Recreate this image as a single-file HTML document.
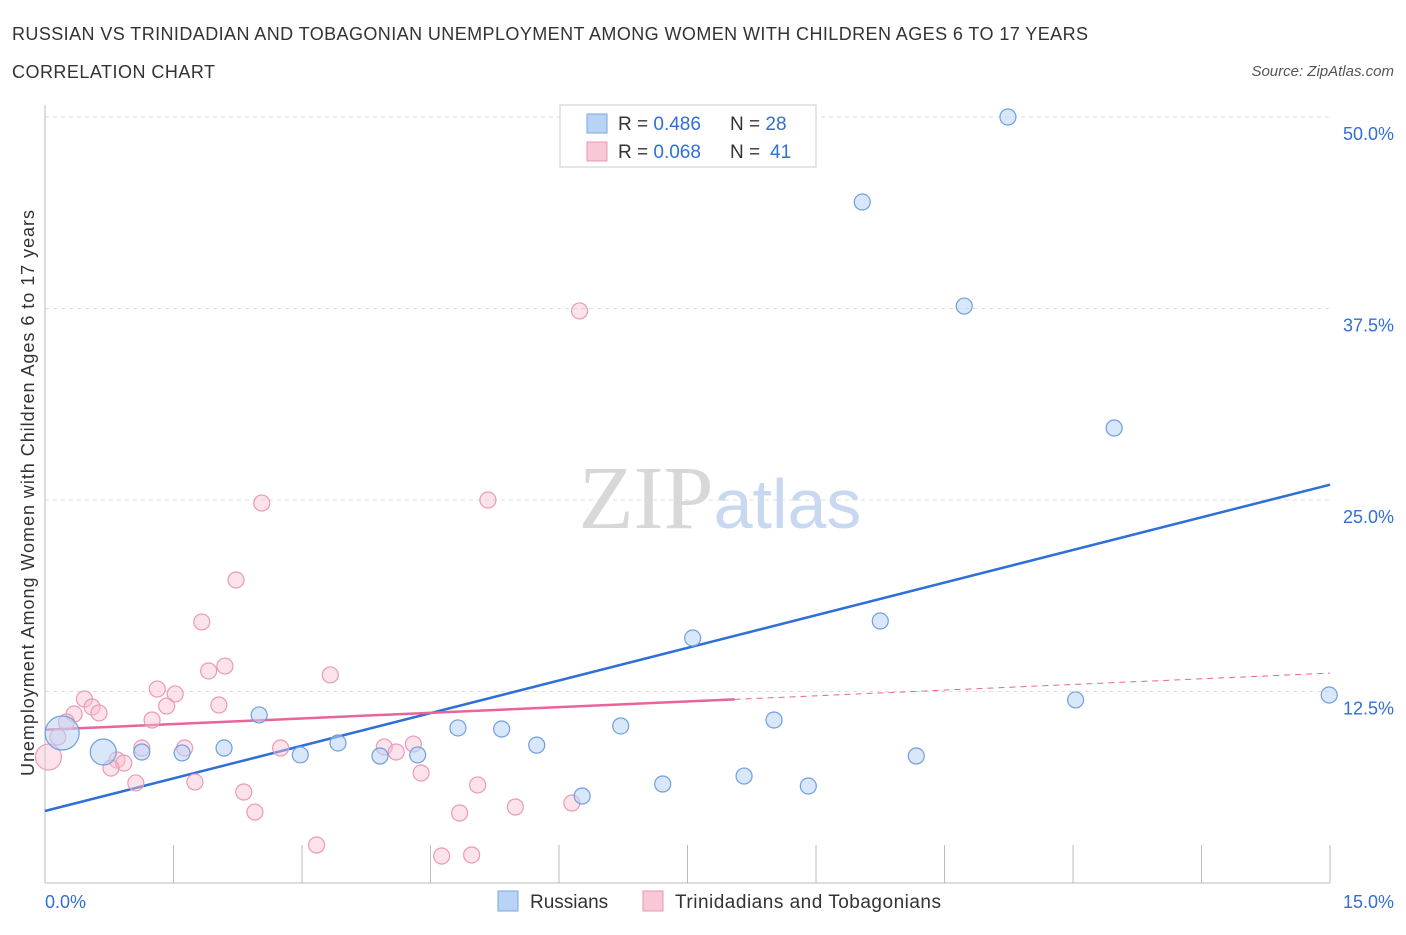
<!DOCTYPE html>
<html><head><meta charset="utf-8"><style>
body{margin:0;background:#fff;font-family:"Liberation Sans",sans-serif;}
svg text{font-family:"Liberation Sans",sans-serif;}
</style></head><body>
<svg id="chart" width="1406" height="930">
<text x="12" y="40" font-size="18" fill="#333" textLength="1076" lengthAdjust="spacing">RUSSIAN VS TRINIDADIAN AND TOBAGONIAN UNEMPLOYMENT AMONG WOMEN WITH CHILDREN AGES 6 TO 17 YEARS</text>
<text x="12" y="78" font-size="18" fill="#333" textLength="203" lengthAdjust="spacing">CORRELATION CHART</text>
<text x="1394" y="76" font-size="15" fill="#555" font-style="italic" text-anchor="end">Source: ZipAtlas.com</text>
<text x="720" y="528" font-size="90" fill="#ddd" text-anchor="middle" font-family="Liberation Serif"><tspan fill="#d8d8d8" font-family="Liberation Serif">ZIP</tspan><tspan fill="#c8d8f0" font-size="70" font-family="Liberation Sans">atlas</tspan></text>
<text transform="translate(34,493) rotate(-90)" font-size="18" fill="#333" text-anchor="middle" textLength="566" lengthAdjust="spacing">Unemployment Among Women with Children Ages 6 to 17 years</text>
<g id="grid"></g><g id="axes"></g><g id="lines"></g><g id="pts"></g>
<g>
<rect x="560" y="105" width="256" height="62" fill="#fff" stroke="#ccc"/>
<rect x="587" y="114" width="20" height="19" fill="#b8d3f5" stroke="#7aa7e0"/>
<rect x="587" y="142" width="20" height="19" fill="#f8c8d6" stroke="#e898b0"/>
<text x="618" y="130" font-size="19" fill="#333">R = <tspan fill="#2f6fd6">0.486</tspan></text>
<text x="730" y="130" font-size="19" fill="#333">N = <tspan fill="#2f6fd6">28</tspan></text>
<text x="618" y="158" font-size="19" fill="#333">R = <tspan fill="#2f6fd6">0.068</tspan></text>
<text x="730" y="158" font-size="19" fill="#333">N = <tspan fill="#2f6fd6" x="770">41</tspan></text>
</g>
<g>
<rect x="498" y="891" width="20" height="20" fill="#b8d3f5" stroke="#7aa7e0"/>
<text x="530" y="908" font-size="19" fill="#333">Russians</text>
<rect x="643" y="891" width="20" height="20" fill="#f8c8d6" stroke="#e898b0"/>
<text x="675" y="908" font-size="19" fill="#333" textLength="266" lengthAdjust="spacing">Trinidadians and Tobagonians</text>
</g>
</svg>
<script>
const yTicks=[12.5,25,37.5,50];
const yTickLabels=["12.5%","25.0%","37.5%","50.0%"];
const xTicks=[0,1.5,3,4.5,6,7.5,9,10.5,12,13.5,15];
const rusX=[11.24,9.54,10.73,12.48,9.75,7.56,14.99,12.03,2.50,8.51,4.82,5.33,6.72,3.42,5.74,2.09,1.13,1.60,0.68,0.2,2.98,3.91,4.35,10.17,8.16,7.21,8.91,6.27];
const rusY=[50.0,44.45,37.66,29.7,17.1,15.99,12.27,11.95,10.97,10.64,10.12,10.05,10.25,9.14,9.0,8.81,8.55,8.49,8.55,9.79,8.36,8.29,8.36,8.29,6.98,6.46,6.33,5.68];
const rusBig=[0,0,0,0,0,0,0,0,0,0,0,0,0,0,0,0,0,0,1,2,0,0,0,0,0,0,0,0];
const triX=[6.24,2.53,5.17,2.23,1.83,2.10,1.91,3.33,1.31,1.52,0.46,0.55,0.63,0.34,1.42,2.03,1.25,0.25,0.15,0.04,1.13,1.63,2.75,3.96,4.1,4.3,0.84,0.92,0.77,4.39,1.06,1.75,5.05,2.32,5.49,6.15,2.45,4.84,3.17,4.63,4.98];
const triY=[37.34,24.8,25.0,19.78,17.04,14.16,13.84,13.58,12.66,12.34,12.01,11.49,11.1,11.03,11.55,11.62,10.64,10.51,9.53,8.22,8.81,8.81,8.81,8.88,8.55,9.07,8.03,7.83,7.5,7.18,6.53,6.59,6.4,5.94,4.96,5.22,4.63,4.57,2.48,1.76,1.83];
const triBig=[0,0,0,0,0,0,0,0,0,0,0,0,0,0,0,0,0,0,0,1,0,0,0,0,0,0,0,0,0,0,0,0,0,0,0,0,0,0,0,0,0];
const rusTrend=[4.7,26.0];
const triTrend=[10.0,13.7];
const triSolidEnd=8.05;
const X=v=>45+v*85.67, Y=v=>883-v*15.32;
const NS="http://www.w3.org/2000/svg";
function mk(tag,attrs,parent){const e=document.createElementNS(NS,tag);for(const k in attrs)e.setAttribute(k,attrs[k]);document.getElementById(parent).appendChild(e);return e;}
yTicks.forEach((t,i)=>{
 const g=mk('line',{x1:45,x2:1330,y1:Y(t),y2:Y(t),stroke:'#ddd','stroke-dasharray':'4,4'},'grid');
 
 
 const l=mk('text',{x:1394,y:Y(t)+23,'font-size':18,fill:'#2f6fd6','text-anchor':'end'},'grid');
 l.textContent=yTickLabels[i];
 
 
});
const ax=mk('line',{x1:45,x2:1330,y1:883,y2:883,stroke:'#bbb'},'axes');


const ay=mk('line',{x1:45,x2:45,y1:105,y2:883,stroke:'#bbb'},'axes');


xTicks.forEach(t=>{
 const k=mk('line',{x1:X(t),x2:X(t),y1:845,y2:883,stroke:'#bbb'},'axes');
 
 
});
const xl0=mk('text',{x:45,y:908,'font-size':18,fill:'#2f6fd6'},'axes');xl0.textContent='0.0%';


const xl1=mk('text',{x:1394,y:908,'font-size':18,fill:'#2f6fd6','text-anchor':'end'},'axes');xl1.textContent='15.0%';


triX.forEach((x,i)=>{
 const r=triBig[i]?13:8;
 const c=mk('circle',{cx:X(x),cy:Y(triY[i]),r:r,fill:'rgba(248,190,208,0.45)',stroke:'#eb9ab4','stroke-width':1.2},'pts');
 
 
});
rusX.forEach((x,i)=>{
 const r=rusBig[i]==1?13:rusBig[i]==2?17:8;
 const c=mk('circle',{cx:X(x),cy:Y(rusY[i]),r:r,fill:'rgba(184,211,245,0.55)',stroke:'#6f9fdc','stroke-width':1.2},'pts');
 
 
});
const bl=mk('line',{x1:X(0),y1:Y(rusTrend[0]),x2:X(15),y2:Y(rusTrend[1]),stroke:'#2f6fd6','stroke-width':2.5},'lines');


const ty=v=>triTrend[0]+(triTrend[1]-triTrend[0])*v/15;
const pl=mk('line',{x1:X(0),y1:Y(ty(0)),x2:X(triSolidEnd),y2:Y(ty(triSolidEnd)),stroke:'#e8649a','stroke-width':2.5},'lines');


const pd=mk('line',{x1:X(triSolidEnd),y1:Y(ty(triSolidEnd)),x2:X(15),y2:Y(ty(15)),stroke:'#e8649a','stroke-width':1,'stroke-dasharray':'6,5'},'lines');


</script>
</body></html>
